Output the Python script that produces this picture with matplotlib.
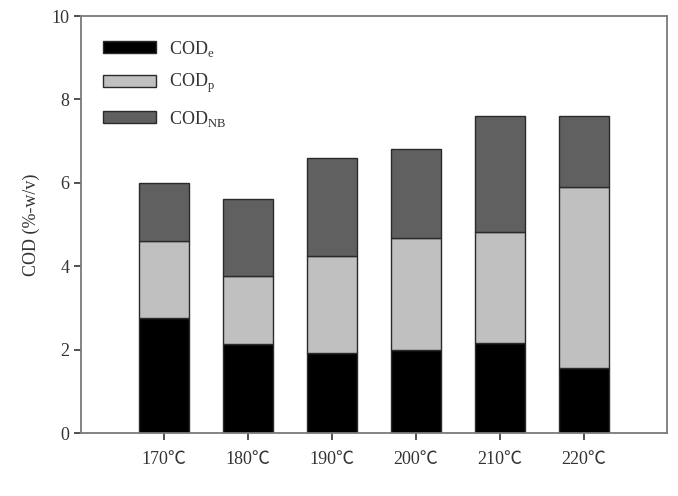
import matplotlib
matplotlib.use("Agg")
import matplotlib.pyplot as plt
import numpy as np

plt.rcParams['font.family'] = ['Liberation Serif', 'Noto Sans CJK SC', 'DejaVu Serif']
plt.rcParams['mathtext.fontset'] = 'custom'
plt.rcParams['mathtext.rm'] = 'Liberation Serif'

temps = ["170℃", "180℃", "190℃", "200℃", "210℃", "220℃"]
cod_e = [2.75, 2.13, 1.91, 2.00, 2.17, 1.56]
cod_p = [1.85, 1.63, 2.33, 2.68, 2.65, 4.33]
cod_nb = [1.40, 1.85, 2.36, 2.12, 2.78, 1.71]

x = np.arange(len(temps))
w = 0.6
edge = "#2a2a2a"

fig = plt.figure(figsize=(6.78, 4.96), dpi=100)
ax = fig.add_axes([0.1195, 0.127, 0.8643, 0.8407])

b1 = ax.bar(x, cod_e, w, color="#000000", edgecolor=edge, linewidth=1)
b2 = ax.bar(x, cod_p, w, bottom=cod_e, color="#c0c0c0", edgecolor=edge, linewidth=1)
bot = np.array(cod_e) + np.array(cod_p)
b3 = ax.bar(x, cod_nb, w, bottom=bot, color="#606060", edgecolor=edge, linewidth=1)

ax.set_xlim(-0.99, 5.99)
ax.set_ylim(0, 10)
ax.set_yticks([0, 2, 4, 6, 8, 10])
ax.set_xticks(x)
ax.set_xticklabels(temps)
ax.set_ylabel("COD (%-w/v)", fontsize=13, color="#333333", labelpad=8)
ax.tick_params(labelsize=13, colors="#333333", length=5, width=1.2, direction="out")
ax.tick_params(axis="x", pad=8)
for s in ax.spines.values():
    s.set_color("#7a7a7a")
    s.set_linewidth(1.3)

leg = ax.legend([b1, b2, b3],
                [r"COD$_\mathrm{e}$", r"COD$_\mathrm{p}$", r"COD$_\mathrm{NB}$"],
                loc="upper left", frameon=False, fontsize=13,
                handlelength=2.95, handleheight=0.65, labelspacing=0.75,
                handletextpad=0.7, bbox_to_anchor=(0.01, 0.985))
for t in leg.get_texts():
    t.set_color("#333333")

fig.savefig("out.png", dpi=100)
